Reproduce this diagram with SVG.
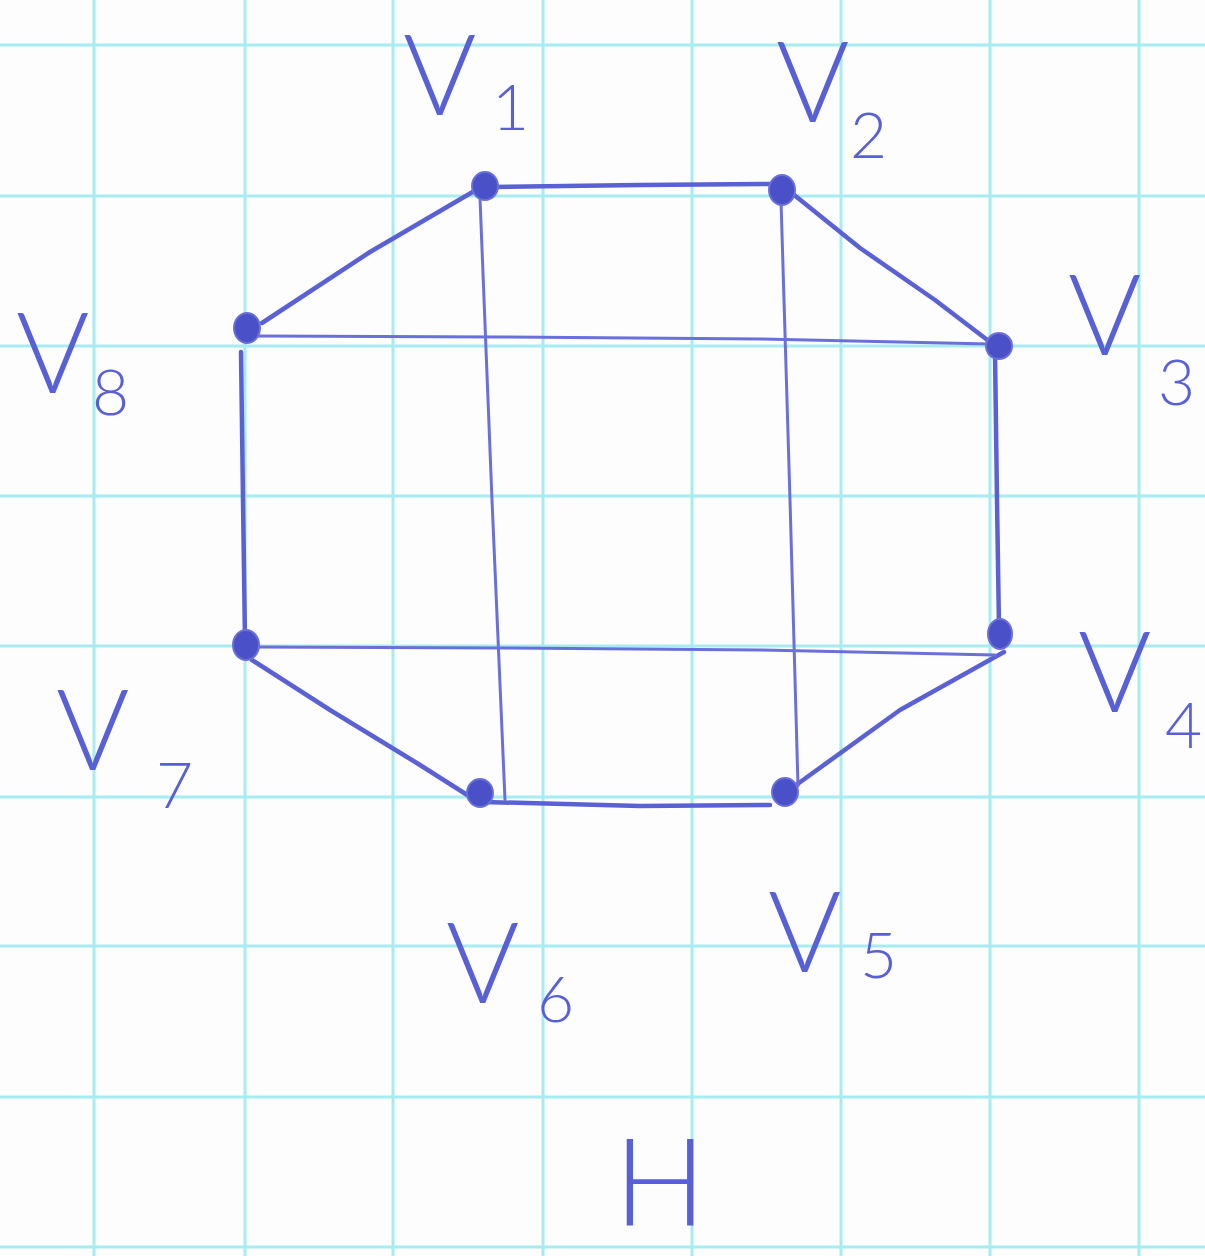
<svg xmlns="http://www.w3.org/2000/svg" width="1205" height="1256" viewBox="0 0 1205 1256">
<style>
.grid line{stroke:#a6ecf0;stroke-width:3}
.e{fill:none;stroke:#5a61d4;stroke-width:4.5;stroke-linecap:round;stroke-linejoin:round}
.t{fill:none;stroke:#6a70d8;stroke-width:3;stroke-linecap:round}
.dot{fill:#4a50c8;stroke:#6a70d8;stroke-width:2}
.lab{font-family:Lato,"Liberation Sans",Arial,sans-serif;font-weight:300;fill:#5860d6}
.big{font-size:112px}
.sub{font-size:64px}
</style>
<rect width="1205" height="1256" fill="#fdfdfe"/>
<g class="grid">
<line x1="94" y1="0" x2="94" y2="1256"/>
<line x1="245" y1="0" x2="245" y2="1256"/>
<line x1="393" y1="0" x2="393" y2="1256"/>
<line x1="543" y1="0" x2="543" y2="1256"/>
<line x1="692" y1="0" x2="692" y2="1256"/>
<line x1="841" y1="0" x2="841" y2="1256"/>
<line x1="990" y1="0" x2="990" y2="1256"/>
<line x1="1139" y1="0" x2="1139" y2="1256"/>
<line x1="0" y1="45" x2="1205" y2="45"/>
<line x1="0" y1="196" x2="1205" y2="196"/>
<line x1="0" y1="346" x2="1205" y2="346"/>
<line x1="0" y1="496" x2="1205" y2="496"/>
<line x1="0" y1="646" x2="1205" y2="646"/>
<line x1="0" y1="797" x2="1205" y2="797"/>
<line x1="0" y1="946" x2="1205" y2="946"/>
<line x1="0" y1="1097" x2="1205" y2="1097"/>
<line x1="0" y1="1247" x2="1205" y2="1247"/>
</g>
<g id="edges">
<path class="e" d="M492 187 L640 185 L778 184"/>
<path class="e" d="M788 190 L860 248 L935 300 L990 342"/>
<path class="e" d="M995 352 L997 500 L999 628"/>
<path class="e" d="M1004 652 L900 710 L792 788"/>
<path class="e" d="M770 805 L640 806 L484 802"/>
<path class="e" d="M472 798 L420 765 L330 710 L252 660"/>
<path class="e" d="M241 352 L243 500 L245 640"/>
<path class="e" d="M262 323 L370 252 L476 190"/>
<path class="t" d="M258 336 L500 337 L760 339 L990 344"/>
<path class="t" d="M255 647 L500 648 L760 650 L995 655"/>
<path class="t" d="M480 198 L492 500 L505 800"/>
<path class="t" d="M781 200 L790 500 L798 786"/>
</g>
<g id="v1"><ellipse class="dot" cx="485" cy="186" rx="13" ry="14"/>
<text class="lab big" x="403" y="115">V</text><text class="lab sub" x="492" y="130">1</text></g>
<g id="v2"><ellipse class="dot" cx="782" cy="190" rx="13" ry="15"/>
<text class="lab big" x="776" y="122">V</text><text class="lab sub" x="850" y="158">2</text></g>
<g id="v3"><ellipse class="dot" cx="999" cy="346" rx="13" ry="13"/>
<text class="lab big" x="1068" y="355">V</text><text class="lab sub" x="1158" y="405">3</text></g>
<g id="v4"><ellipse class="dot" cx="1000" cy="634" rx="12" ry="15"/>
<text class="lab big" x="1078" y="712">V</text><text class="lab sub" x="1165" y="748">4</text></g>
<g id="v5"><ellipse class="dot" cx="785" cy="792" rx="13" ry="14"/>
<text class="lab big" x="768" y="972">V</text><text class="lab sub" x="860" y="978">5</text></g>
<g id="v6"><ellipse class="dot" cx="480" cy="793" rx="13" ry="14"/>
<text class="lab big" x="446" y="1003">V</text><text class="lab sub" x="537" y="1022">6</text></g>
<g id="v7"><ellipse class="dot" cx="246" cy="645" rx="13" ry="15"/>
<text class="lab big" x="56" y="770">V</text><text class="lab sub" x="156" y="808">7</text></g>
<g id="v8"><ellipse class="dot" cx="247" cy="328" rx="13" ry="15"/>
<text class="lab big" x="16" y="393">V</text><text class="lab sub" x="92" y="415">8</text></g>
<text class="lab" x="614" y="1226" font-size="122" fill="#5058d0">H</text>
</svg>
